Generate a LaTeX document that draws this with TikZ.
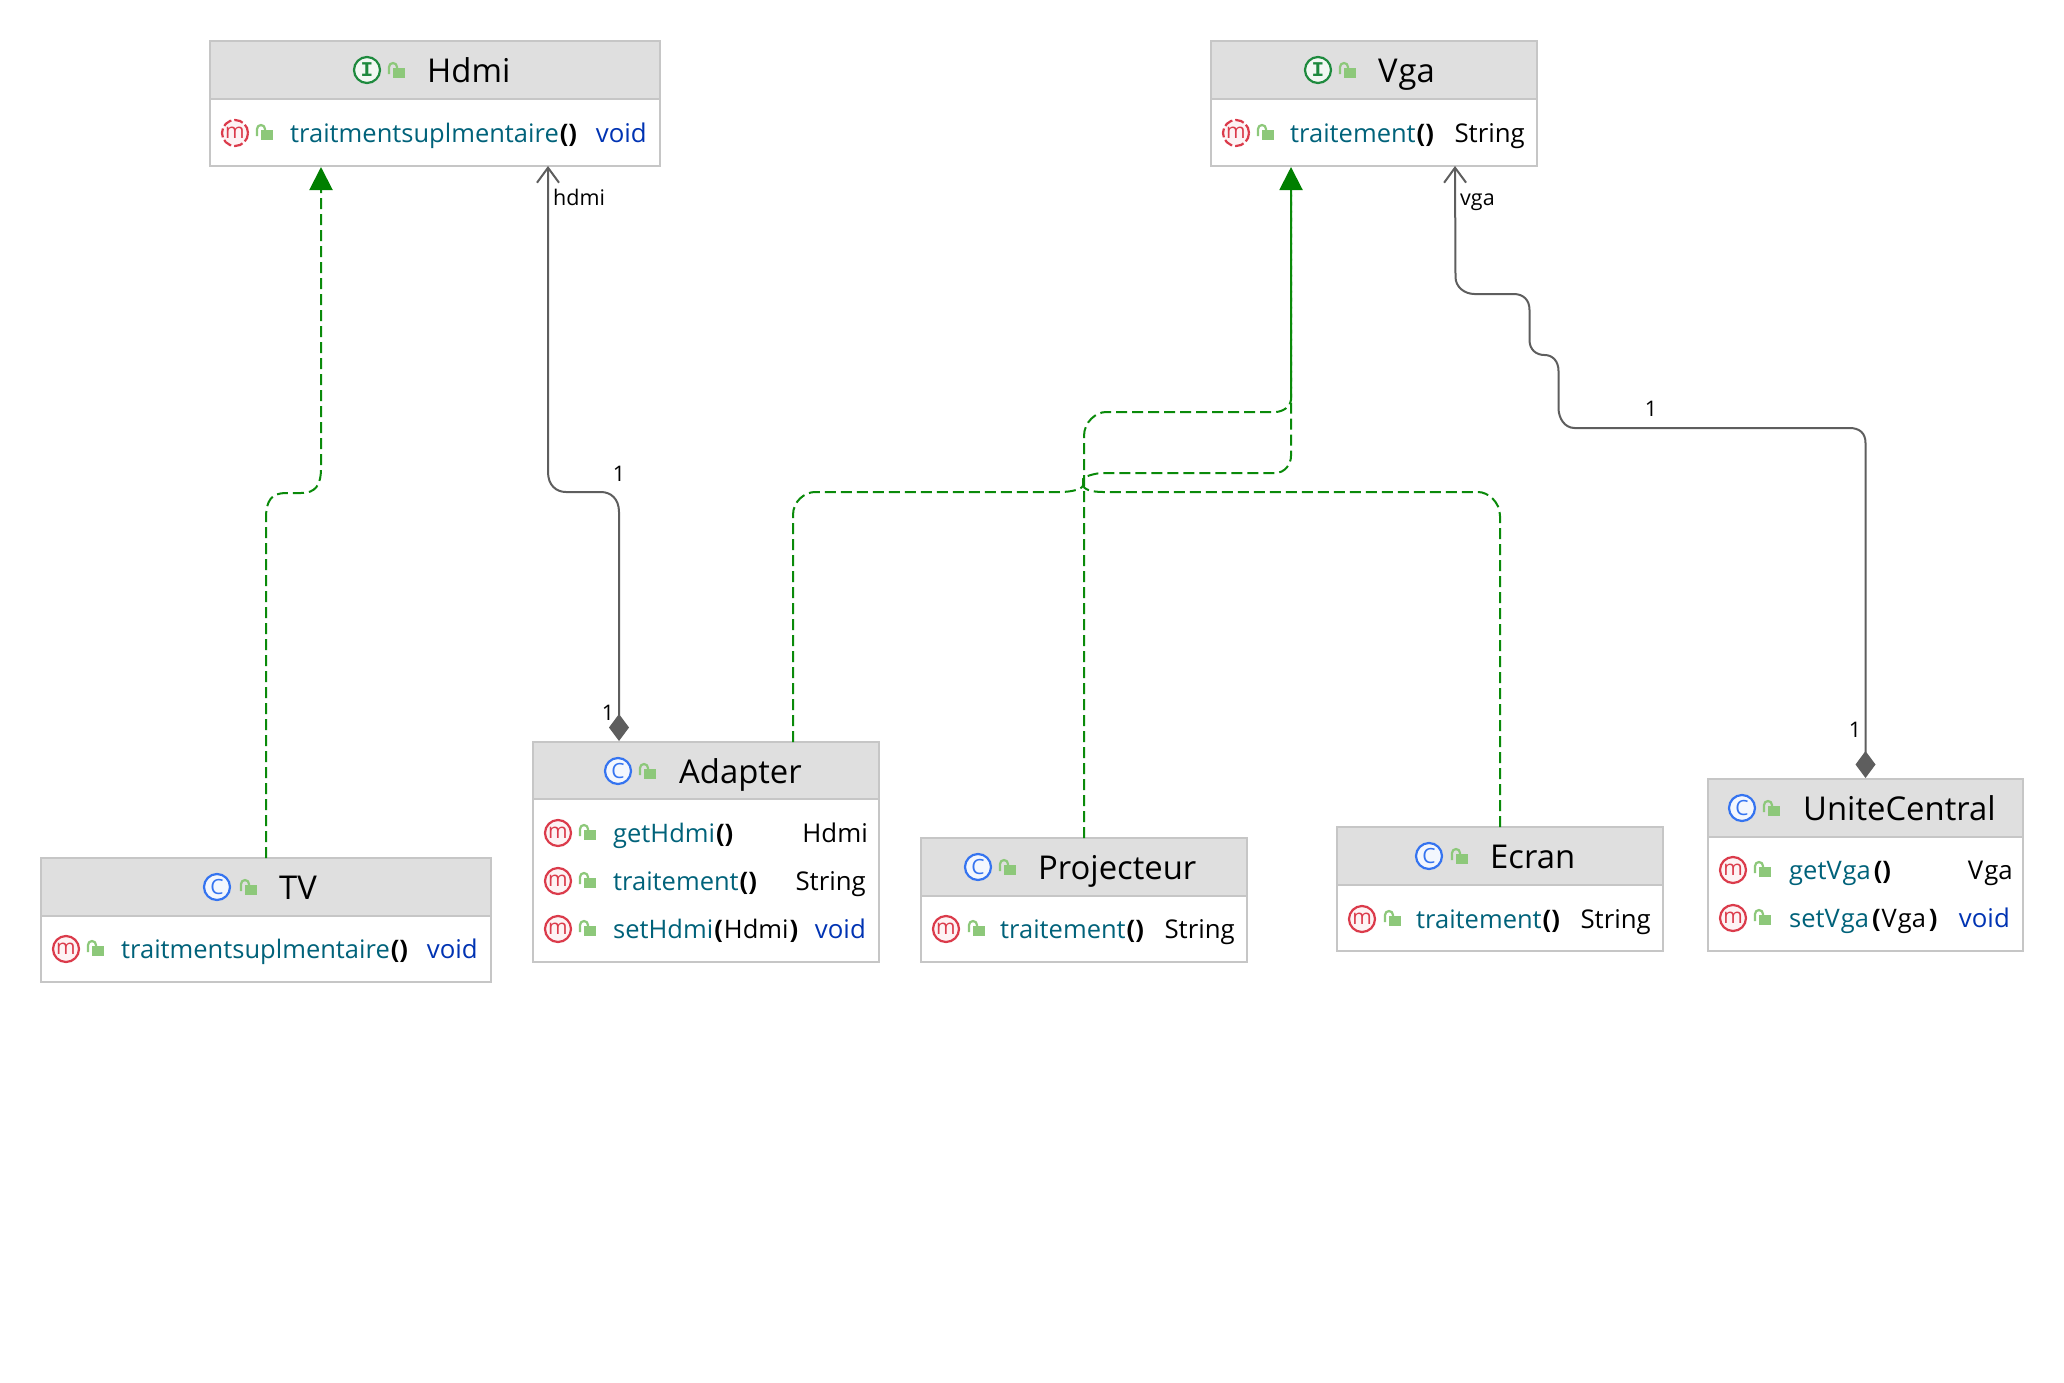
\documentclass[tikz,border=0pt]{standalone}
\usepackage{fontspec}
\setmainfont{Open Sans}
\setmonofont{Liberation Mono}
\usetikzlibrary{arrows.meta}
\definecolor{boxline}{HTML}{C6C6C6}
\definecolor{headfill}{HTML}{DFDFDF}
\definecolor{methodc}{HTML}{00627A}
\definecolor{voidc}{HTML}{0033B3}
\definecolor{redc}{HTML}{DB3B4B}
\definecolor{bluec}{HTML}{3574F0}
\definecolor{greenc}{HTML}{1E8A3E}
\definecolor{lockc}{HTML}{8DC87A}
\definecolor{realc}{HTML}{0A8A0A}
\definecolor{tipc}{HTML}{007F00}
\definecolor{linkc}{HTML}{5E5E5E}
\tikzset{
  umlbody/.style={draw=boxline,line width=2pt,fill=white,inner sep=0pt,outer sep=0pt},
  umlhead/.style={draw=boxline,line width=2pt,fill=headfill,inner sep=0pt,outer sep=0pt},
  titletext/.style={anchor=base west,inner sep=0pt,font=\fontsize{32.8}{38}\selectfont,text=black},
  rowtext/.style={anchor=base west,inner sep=0pt,font=\fontsize{25.5}{30}\selectfont},
  typetext/.style={anchor=base east,inner sep=0pt,font=\fontsize{25.8}{30}\selectfont},
  lbl/.style={inner sep=0pt,font=\fontsize{21.5}{25}\selectfont,text=black},
  realize/.style={draw=realc,line width=2pt,dash pattern=on 11pt off 5pt,-{Triangle[length=23pt,width=23pt,fill=tipc,color=tipc]}},
  realline/.style={draw=realc,line width=2pt,dash pattern=on 11pt off 5pt},
  assoc/.style={draw=linkc,line width=2pt,{Diamond[length=27pt,width=20pt,fill=linkc,color=linkc]}-{Straight Barb[length=15pt,width=22pt,color=linkc]}},
}
% icon: name, x, y, letter, colour, line style
\newcommand{\umlico}[6]{%
  \node[circle,draw=#5,line width=2.2pt,fill=#5!6,minimum size=26pt,inner sep=0pt,#6,
        text=#5] (#1) at (#2,#3) {#4};}
\newcommand{\umllock}[2]{%
  \fill[lockc] (#1-4,#2-3) rectangle (#1+8,#2+7);
  \draw[lockc,line width=2.2pt] (#1-8,#2+3) -- (#1-8,#2-4) arc[start angle=180,end angle=0,radius=4pt] -- (#1,#2-3);}
% box: name, x1, y1, x2, y2, yhead
\newcommand{\umlbox}[6]{%
  \pgfmathsetmacro{\bw}{#4-#2}\pgfmathsetmacro{\bh}{#5-#3}\pgfmathsetmacro{\hh}{#6-#3}%
  \pgfmathsetmacro{\bcx}{(#2+#4)/2}\pgfmathsetmacro{\bcy}{(#3+#5)/2}\pgfmathsetmacro{\hcy}{(#3+#6)/2}%
  \node[umlbody,minimum width=\bw pt,minimum height=\bh pt] (#1) at (\bcx,\bcy) {};
  \node[umlhead,minimum width=\bw pt,minimum height=\hh pt] (#1-head) at (\bcx,\hcy) {};}
% title: name, icon x, y, lock x, text x, letter, colour, title
\newcommand{\umltitle}[8]{%
  \umlico{#1-tico}{#2}{#3}{#6}{#7}{solid}
  \umllock{#4}{#3+1}
  \node[titletext] (#1-title) at (#5,#3+12) {#8};}
% row: name, m x, y, lock x, text x, style, text, right x, type
\newcommand{\umlrow}[9]{%
  \umlico{#1-mico}{#2}{#3}{\fontsize{21}{21}\selectfont\raisebox{1pt}{m}}{redc}{#6}
  \umllock{#4}{#3}
  \node[rowtext] (#1-text) at (#5,#3+9) {#7};
  \node[typetext] (#1-type) at (#8,#3+9) {#9};}
\newcommand{\mth}[1]{\textcolor{methodc}{#1}}
\newcommand{\prn}[1]{\kern1pt\textbf{#1}\kern1pt}
\newcommand{\vd}{\textcolor{voidc}{void}}
\newcommand{\letI}{\ttfamily\bfseries\fontsize{21}{21}\selectfont I}
\newcommand{\letC}{\fontsize{21}{21}\selectfont C}
\begin{document}
\begin{tikzpicture}[x=1pt,y=-1pt]
\useasboundingbox (0,0) rectangle (2064,1382);

\umlbox{hdmi}{210}{41}{660}{166}{99}
\umltitle{hdmi}{367}{70}{397}{427}{\letI}{greenc}{Hdmi}
\umlrow{hdmiA}{235}{133}{265}{290}{dash pattern=on 9pt off 3pt}{\mth{traitmentsuplmentaire}\prn{()}}{647}{\vd}

\umlbox{vga}{1211}{41}{1537}{166}{99}
\umltitle{vga}{1318}{70}{1348}{1378}{\letI}{greenc}{V\kern1pt ga}
\umlrow{vgaA}{1236}{133}{1266}{1290}{dash pattern=on 9pt off 3pt}{\mth{traitement}\prn{()}}{1525}{String}

\umlbox{tv}{41}{858}{491}{982}{916}
\umltitle{tv}{217}{887}{249}{279}{\letC}{bluec}{TV}
\umlrow{tvA}{66}{949}{96}{121}{solid}{\mth{traitmentsuplmentaire}\prn{()}}{478}{\vd}

\umlbox{adapter}{533}{742}{879}{962}{799}
\umltitle{adapter}{618}{771}{648}{679}{\letC}{bluec}{Adapter}
\umlrow{adA}{558}{833}{588}{613}{solid}{\mth{getHdmi}\prn{()}}{868}{Hdmi}
\umlrow{adB}{558}{881}{588}{613}{solid}{\mth{traitement}\prn{()}}{866}{String}
\umlrow{adC}{558}{929}{588}{613}{solid}{\mth{setHdmi}\prn{(}Hdmi\prn{)}}{866}{\vd}

\umlbox{proj}{921}{838}{1247}{962}{896}
\umltitle{proj}{978}{867}{1008}{1038}{\letC}{bluec}{Projecteur}
\umlrow{prA}{946}{929}{977}{1000}{solid}{\mth{traitement}\prn{()}}{1235}{String}

\umlbox{ecran}{1337}{827}{1663}{951}{885}
\umltitle{ecran}{1429}{856}{1460}{1490}{\letC}{bluec}{Ecran}
\umlrow{ecA}{1362}{919}{1393}{1416}{solid}{\mth{traitement}\prn{()}}{1651}{String}

\umlbox{unite}{1708}{779}{2023}{951}{837}
\umltitle{unite}{1742}{808}{1772}{1803}{\letC}{bluec}{UniteCentral}
\umlrow{unA}{1733}{870}{1763}{1789}{solid}{\mth{getV\kern1pt ga}\kern2pt\prn{()}}{2013}{V\kern1pt ga}
\umlrow{unB}{1733}{918}{1763}{1789}{solid}{\mth{setV\kern1pt ga}\kern2pt\prn{(}V\kern1pt ga\kern2pt\prn{)}}{2010}{\vd}

% realization: TV -> Hdmi
\draw[realize] (tv.north) -- ++(0,-340)
  .. controls ++(0,-18) and ++(-14,0) .. ++(20,-25) -- ++(15,0)
  .. controls ++(14,0) and ++(0,18) .. ++(20,-25)
  -- ([xshift=111pt,yshift=-1pt]hdmi.south west);

% realization: Projecteur -> Vga
\draw[realize] (proj.north) -- ++(0,-402)
  .. controls ++(0,-14) and ++(-10,0) .. ++(22,-24) -- ++(169,0)
  .. controls ++(8,0) and ++(0,6) .. ++(16,-12)
  -- ([xshift=80pt,yshift=-1pt]vga.south west);

% realization: Adapter -> Vga
\draw[realline] ([xshift=260pt]adapter.north west) -- ++(0,-227)
  .. controls ++(0,-14) and ++(-10,0) .. ++(22,-23) -- ++(245,0)
  .. controls ++(12,0) and ++(0,4) .. ++(23,-7) -- ++(0,-6)
  .. controls ++(0,-2) and ++(-8,0) .. ++(20,-6) -- ++(172,0)
  .. controls ++(10,0) and ++(0,8) .. ++(16,-17)
  -- ([xshift=80pt,yshift=-24pt]vga.south west);

% realization: Ecran -> Vga
\draw[realline] (ecran.north) -- ++(0,-311)
  .. controls ++(0,-14) and ++(10,0) .. ++(-22,-24) -- ++(-375,0)
  .. controls ++(-12,0) and ++(0,4) .. ++(-20,-7);

% association: Adapter -- Hdmi
\draw[assoc] ([xshift=86pt]adapter.north west) ++(0,-1) -- ++(0,-229)
  .. controls ++(0,-13) and ++(10,0) .. ++(-18,-20) -- ++(-35,0)
  .. controls ++(-10,0) and ++(0,13) .. ++(-18,-20)
  -- ([xshift=338pt]hdmi.south west);
\node[lbl,anchor=base west] (hdmilbl) at (553,205) {hdmi};
\node[lbl] (adone) at (619,474) {1};
\node[lbl] (adtwo) at (608,713) {1};

% association: UniteCentral -- Vga
\draw[assoc] (unite.north) ++(0,-1) -- ++(0,-335)
  .. controls ++(0,-10) and ++(10,0) .. ++(-16,-15) -- ++(-275,0)
  .. controls ++(-10,0) and ++(0,10) .. ++(-16,-20) -- ++(0,-37)
  .. controls ++(0,-10) and ++(8,0) .. ++(-14,-16)
  .. controls ++(-8,0) and ++(0,10) .. ++(-15,-15) -- ++(0,-30)
  .. controls ++(0,-10) and ++(10,0) .. ++(-16,-16) -- ++(-39,0)
  .. controls ++(-10,0) and ++(0,10) .. ++(-19,-17)
  -- ([xshift=244pt]vga.south west);
\node[lbl,anchor=base west] (vgalbl) at (1460,205) {vga};
\node[lbl] (unone) at (1651,409) {1};
\node[lbl] (untwo) at (1855,730) {1};
\end{tikzpicture}
\end{document}
